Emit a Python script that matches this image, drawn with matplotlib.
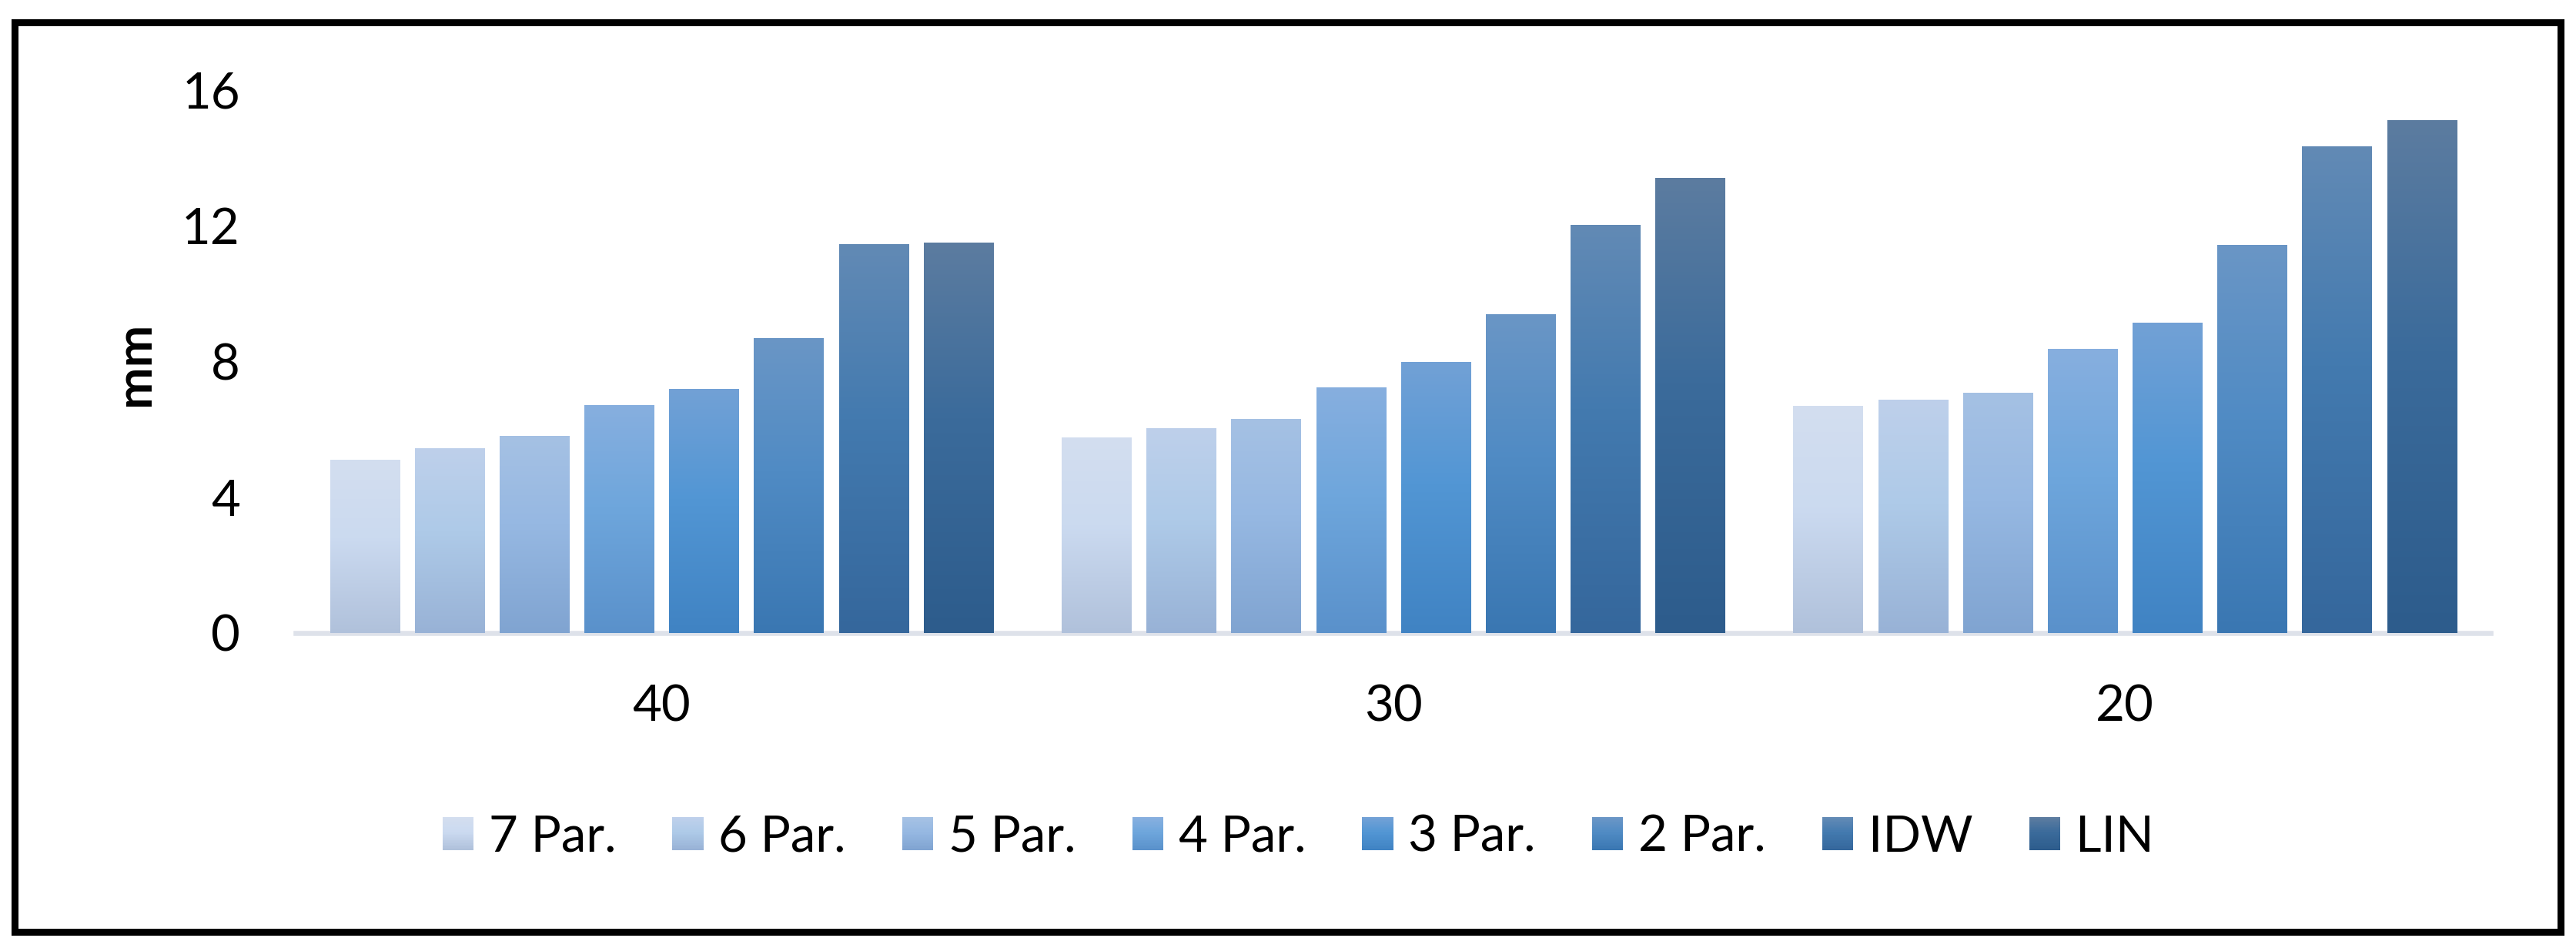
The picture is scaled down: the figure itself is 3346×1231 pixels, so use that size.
import numpy as np
import matplotlib
matplotlib.use("Agg")
import matplotlib.pyplot as plt
from matplotlib.colors import LinearSegmentedColormap
from matplotlib.patches import Rectangle
from matplotlib.legend_handler import HandlerBase

categories = ["40", "30", "20"]
series = ["7 Par.", "6 Par.", "5 Par.", "4 Par.", "3 Par.", "2 Par.", "IDW", "LIN"]

par7 = [5.10, 5.75, 6.67]
par6 = [5.44, 6.01, 6.87]
par5 = [5.80, 6.30, 7.06]
par4 = [6.71, 7.23, 8.35]
par3 = [7.17, 7.98, 9.12]
par2 = [8.68, 9.37, 11.41]
idw = [11.43, 12.00, 14.31]
lin = [11.49, 13.40, 15.10]
values = [par7, par6, par5, par4, par3, par2, idw, lin]

# gradient stops per series: top, middle, bottom
gradients = [
    ["#d3deef", "#cbdaf0", "#b0c1db"],
    ["#bed0eb", "#aecae8", "#98b2d6"],
    ["#a5c1e4", "#96b8e2", "#80a4d1"],
    ["#87afdf", "#6ea6dc", "#5a91cb"],
    ["#72a1d6", "#5296d4", "#4083c3"],
    ["#6a96c6", "#508bc4", "#3a77b2"],
    ["#628ab5", "#437aaf", "#35679c"],
    ["#5c7ca0", "#3b6b9b", "#2d5c8c"],
]
cmaps = [LinearSegmentedColormap.from_list("g%d" % i, [(0, g[0]), (0.45, g[1]), (1, g[2])])
         for i, g in enumerate(gradients)]

font = "Lato"
fs = 47

fig = plt.figure(figsize=(33.46, 12.31), dpi=100)
ax = fig.add_axes([0.1148, 0.3323, 0.8521, 0.5732])

x = np.arange(len(categories))
pitch = 0.1159
width = 0.0948
grad = np.linspace(0, 1, 256).reshape(-1, 1)

for i, (name, vals) in enumerate(zip(series, values)):
    offs = (i - 3.5) * pitch
    bars = ax.bar(x + offs, vals, width, color="none", label=name)
    for b in bars:
        x0, y0 = b.get_x(), b.get_y()
        ax.imshow(grad, cmap=cmaps[i], aspect="auto", interpolation="bicubic",
                  extent=[x0, x0 + b.get_width(), y0, y0 + b.get_height()],
                  origin="upper", zorder=2)

ax.set_xlim(-0.5, 2.5)
ax.set_ylim(0, 16)
ax.set_yticks([0, 4, 8, 12, 16])
ax.set_xticks(x)
ax.set_xticklabels(categories)
for s in ["top", "right", "left"]:
    ax.spines[s].set_visible(False)
ax.spines["bottom"].set_color("#dee2ea")
ax.spines["bottom"].set_linewidth(4.7)
ax.spines["bottom"].set_zorder(1)
ax.tick_params(axis="y", length=0, pad=52, labelsize=fs)
ax.tick_params(axis="x", length=0, pad=48, labelsize=fs)
for t in ax.get_xticklabels() + ax.get_yticklabels():
    t.set_fontfamily(font)

fig.text(176 / 3346, 1 - 472 / 1231, "mm", rotation=90, ha="center", va="center",
         fontsize=fs, fontweight="bold", fontfamily=font)


class GradientHandler(HandlerBase):
    def __init__(self, cmap):
        super().__init__()
        self.cmap = cmap

    def create_artists(self, legend, orig_handle, xdescent, ydescent, width, height, fontsize, trans):
        n = 30
        arts = []
        for k in range(n):
            c = self.cmap(1 - k / (n - 1))
            r = Rectangle((-xdescent, -ydescent + height * k / n), width, height / n + 0.3,
                          facecolor=c, edgecolor="none", transform=trans)
            arts.append(r)
        return arts


handles = [Rectangle((0, 0), 1, 1) for _ in series]
handler_map = {h: GradientHandler(cm) for h, cm in zip(handles, cmaps)}
fig.legend(handles, series, handler_map=handler_map, loc="center",
           bbox_to_anchor=(1686 / 3346, 1 - 1087 / 1231), ncol=8, frameon=False,
           prop={"family": font, "size": fs}, handlelength=0.62, handleheight=0.62,
           handletextpad=0.3, columnspacing=1.12)

frame = Rectangle((18.5 / 3346, 1 - 1209.5 / 1231), (3325.5 - 18.5) / 3346, (1209.5 - 28.5) / 1231,
                  transform=fig.transFigure, fill=False, edgecolor="black", linewidth=6.5)
fig.patches.append(frame)

fig.savefig("out.png", dpi=100)
